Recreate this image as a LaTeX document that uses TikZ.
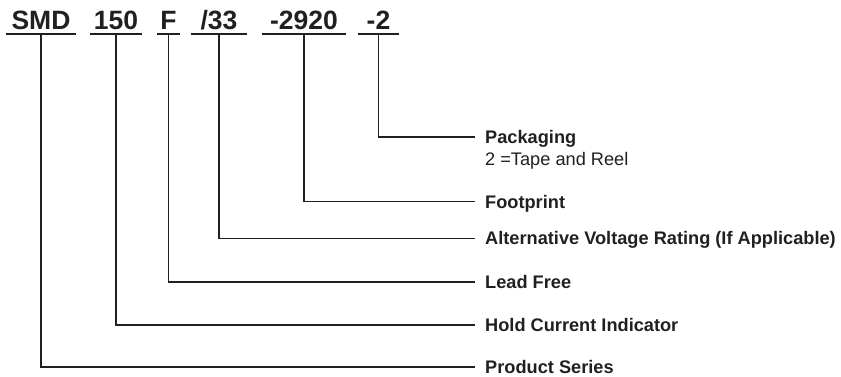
\documentclass[tikz,border=0pt]{standalone}
\usepackage{fontspec}
\setmainfont{Liberation Sans}
\usetikzlibrary{positioning, calc}
\definecolor{inkblack}{RGB}{35, 31, 32}

\begin{document}
\begin{tikzpicture}[x=1pt, y=-1pt,
    codepart/.style={font=\fontsize{26.5}{30}\selectfont\bfseries, text=inkblack,
                     inner sep=0pt, text depth=4.5pt, anchor=south},
    fieldname/.style={font=\fontsize{18.2}{22}\selectfont\bfseries, text=inkblack,
                      inner sep=0pt, text height=12.6pt, text depth=0pt, anchor=west},
    underline/.style={draw=inkblack, line width=2pt},
    leader/.style={draw=inkblack, line width=1.1pt}]

    \useasboundingbox (0,0) rectangle (841,376);

    \node[codepart, minimum width=70pt] (smd) at (41,33.7) {SMD};
    \node[codepart, minimum width=52pt] (hold) at (116,33.7) {150};
    \node[codepart, minimum width=23pt] (lead) at (168.5,33.7) {F};
    \node[codepart, minimum width=56pt] (volt) at (219,33.7) {/33};
    \node[codepart, minimum width=84pt] (foot) at (304,33.7) {-2920};
    \node[codepart, minimum width=41pt] (pack) at (378.5,33.7) {-2};

    \draw[underline] (smd.south west) -- (smd.south east);
    \draw[underline] (hold.south west) -- (hold.south east);
    \draw[underline] (lead.south west) -- (lead.south east);
    \draw[underline] (volt.south west) -- (volt.south east);
    \draw[underline] (foot.south west) -- (foot.south east);
    \draw[underline] (pack.south west) -- (pack.south east);

    \node[fieldname] (packname) at (485,137) {Packaging};
    \node[font=\fontsize{18.2}{22}\selectfont, text=inkblack, inner sep=0pt,
          anchor=base west] (packnote) at (485,165) {2 =Tape and Reel};
    \node[fieldname] (footname) at (485,201.7) {Footprint};
    \node[fieldname] (voltname) at (485,238.5) {Alternative Voltage Rating (If Applicable)};
    \node[fieldname] (leadname) at (485,282) {Lead Free};
    \node[fieldname] (holdname) at (485,325) {Hold Current Indicator};
    \node[fieldname] (seriesname) at (485,367) {Product Series};

    \draw[leader] (pack.south) |- ([xshift=-10pt]packname.west);
    \draw[leader] (foot.south) |- ([xshift=-10pt]footname.west);
    \draw[leader] (volt.south) |- ([xshift=-10pt]voltname.west);
    \draw[leader] (lead.south) |- ([xshift=-10pt]leadname.west);
    \draw[leader] (hold.south) |- ([xshift=-10pt]holdname.west);
    \draw[leader] (smd.south) |- ([xshift=-10pt]seriesname.west);
\end{tikzpicture}
\end{document}
